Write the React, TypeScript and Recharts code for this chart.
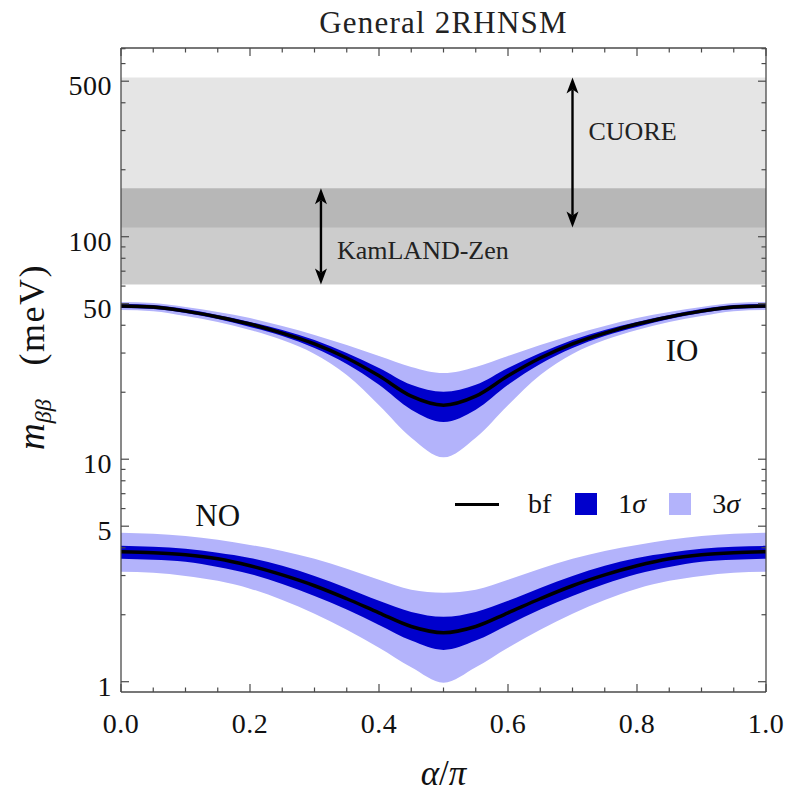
import React from "react";
import {
  ComposedChart,
  Area,
  Line,
  XAxis,
  YAxis,
  ReferenceArea,
  ReferenceLine,
  ReferenceDot,
  Label,
} from "recharts";

const alphaOverPi = [
  0, 0.05, 0.1, 0.15, 0.2, 0.25, 0.3, 0.35, 0.4, 0.45, 0.5, 0.55, 0.6, 0.65, 0.7,
  0.75, 0.8, 0.85, 0.9, 0.95, 1,
];

// inverted ordering, m_bb in meV
const ioBest = [48.8, 48.3, 46.3, 43.6, 40.5, 36.9, 33.0, 28.5, 23.7, 19.2, 17.5, 19.2, 23.7, 28.5, 33.0, 36.9, 40.5, 43.6, 46.3, 48.3, 48.8];
const io1Low = [47.8, 47.3, 45.4, 42.7, 39.3, 35.8, 31.6, 26.8, 21.6, 16.7, 14.7, 16.7, 21.6, 26.8, 31.6, 35.8, 39.3, 42.7, 45.4, 47.3, 47.8];
const io1High = [49.8, 49.3, 47.3, 44.5, 41.4, 38.1, 34.3, 30.0, 25.7, 21.6, 20.1, 21.6, 25.7, 30.0, 34.3, 38.1, 41.4, 44.5, 47.3, 49.3, 49.8];
const io3Low = [46.8, 46.3, 44.0, 41.4, 38.1, 34.3, 29.7, 23.9, 17.5, 12.5, 10.2, 12.5, 17.5, 23.9, 29.7, 34.3, 38.1, 41.4, 44.0, 46.3, 46.8];
const io3High = [50.9, 50.3, 48.3, 45.9, 43.1, 39.7, 36.2, 32.6, 29.1, 26.0, 24.4, 26.0, 29.1, 32.6, 36.2, 39.7, 43.1, 45.9, 48.3, 50.3, 50.9];

// normal ordering
const noBest = [3.84, 3.8, 3.72, 3.57, 3.32, 3.02, 2.7, 2.36, 2.04, 1.77, 1.66, 1.77, 2.04, 2.36, 2.7, 3.02, 3.32, 3.57, 3.72, 3.8, 3.84];
const no1Low = [3.57, 3.53, 3.46, 3.28, 3.05, 2.75, 2.43, 2.11, 1.8, 1.53, 1.39, 1.53, 1.8, 2.11, 2.43, 2.75, 3.05, 3.28, 3.46, 3.53, 3.57];
const no1High = [4.08, 4.04, 3.96, 3.8, 3.6, 3.32, 2.99, 2.64, 2.31, 2.06, 1.96, 2.06, 2.31, 2.64, 2.99, 3.32, 3.6, 3.8, 3.96, 4.04, 4.08];
const no3Low = [3.12, 3.09, 2.99, 2.84, 2.62, 2.33, 2.02, 1.71, 1.42, 1.16, 0.99, 1.16, 1.42, 1.71, 2.02, 2.33, 2.62, 2.84, 2.99, 3.09, 3.12];
const no3High = [4.67, 4.62, 4.52, 4.34, 4.12, 3.87, 3.57, 3.22, 2.87, 2.59, 2.51, 2.59, 2.87, 3.22, 3.57, 3.87, 4.12, 4.34, 4.52, 4.62, 4.67];

// experimental bounds (meV)
const cuoreRange = [110, 520];
const kamlandRange = [61, 165];
const cuoreArrowAt = 0.7;
const kamlandArrowAt = 0.31;

const xTicks = [
  0, 0.05, 0.1, 0.15, 0.2, 0.25, 0.3, 0.35, 0.4, 0.45, 0.5, 0.55, 0.6, 0.65, 0.7,
  0.75, 0.8, 0.85, 0.9, 0.95, 1,
];
const xLabelTicks = [0, 0.2, 0.4, 0.6, 0.8, 1];
const yMajorTicks = [1, 5, 10, 50, 100, 500];
const yMinorTicks = [2, 3, 4, 6, 7, 8, 9, 20, 30, 40, 60, 70, 80, 90, 200, 300, 400, 600, 700];
const yDomain = [0.899, 705];

const data = alphaOverPi.map((a, i) => ({
  a,
  ioBest: ioBest[i],
  io1: [io1Low[i], io1High[i]],
  io3: [io3Low[i], io3High[i]],
  noBest: noBest[i],
  no1: [no1Low[i], no1High[i]],
  no3: [no3Low[i], no3High[i]],
}));

const FONT = "'Liberation Serif', 'DejaVu Serif', serif";
const FRAME = "#4a4a4a";
const DARK = "#0000cc";
const LIGHT = "#b3b3fb";
const MAJOR = 8;
const MINOR = 4.5;

const isLabelX = (v: number) => xLabelTicks.some((t) => Math.abs(t - v) < 1e-6);
const isMajorY = (v: number) => yMajorTicks.includes(v);

const BottomTick = (p: any) => {
  const v = p.payload.value;
  const major = isLabelX(v);
  return (
    <g>
      <line x1={p.x} x2={p.x} y1={p.y} y2={p.y - (major ? MAJOR : MINOR)} stroke={FRAME} strokeWidth={1.2} />
      {major && (
        <text x={p.x} y={p.y + 41} textAnchor="middle" fontFamily={FONT} fontSize={28} letterSpacing={0.5} fill="#111">
          {v.toFixed(1)}
        </text>
      )}
    </g>
  );
};

const TopTick = (p: any) => {
  const major = isLabelX(p.payload.value);
  return <line x1={p.x} x2={p.x} y1={p.y} y2={p.y + (major ? MAJOR : MINOR)} stroke={FRAME} strokeWidth={1.2} />;
};

const LeftTick = (p: any) => {
  const v = p.payload.value;
  const major = isMajorY(v);
  return (
    <g>
      <line x1={p.x} x2={p.x + (major ? MAJOR : MINOR)} y1={p.y} y2={p.y} stroke={FRAME} strokeWidth={1.2} />
      {major && (
        <text x={p.x - 9} y={p.y + 14} textAnchor="end" fontFamily={FONT} fontSize={28} letterSpacing={0.5} fill="#111">
          {v}
        </text>
      )}
    </g>
  );
};

const RightTick = (p: any) => {
  const major = isMajorY(p.payload.value);
  return <line x1={p.x} x2={p.x - (major ? MAJOR : MINOR)} y1={p.y} y2={p.y} stroke={FRAME} strokeWidth={1.2} />;
};

const arrowShape = (label: string, textFrac: number) => (p: any) => {
  const x = p.x1;
  const top = Math.min(p.y1, p.y2);
  const bot = Math.max(p.y1, p.y2);
  const head = 16;
  const hw = 6;
  return (
    <g>
      <line x1={x} x2={x} y1={top + head - 4} y2={bot - head + 4} stroke="#000" strokeWidth={2.4} />
      <path d={`M${x},${top} L${x - hw},${top + head} L${x},${top + head - 4} L${x + hw},${top + head} Z`} fill="#000" />
      <path d={`M${x},${bot} L${x - hw},${bot - head} L${x},${bot - head + 4} L${x + hw},${bot - head} Z`} fill="#000" />
      <text x={x + 16} y={top + (bot - top) * textFrac + 9} fontFamily={FONT} fontSize={26} fill="#222">
        {label}
      </text>
    </g>
  );
};

const textDot = (label: string) => (p: any) => (
  <text x={p.cx} y={p.cy + 11} textAnchor="middle" fontFamily={FONT} fontSize={31} fill="#111">
    {label}
  </text>
);

export default function App() {
  return (
    <div style={{ position: "absolute", left: 0, top: 0, width: 787, height: 795, background: "#fff" }}>
      <ComposedChart width={787} height={795} data={data} margin={{ top: 0, right: 0, bottom: 0, left: 0 }}>
        <XAxis
          xAxisId="b"
          dataKey="a"
          type="number"
          domain={[0, 1]}
          ticks={xTicks}
          interval={0}
          tick={BottomTick}
          tickLine={false}
          tickSize={0}
          tickMargin={0}
          height={103}
          axisLine={{ stroke: FRAME, strokeWidth: 1.3 }}
          allowDataOverflow
        >
          <Label
            content={(lp: any) => (
              <text
                x={lp.viewBox.x + lp.viewBox.width / 2}
                y={lp.viewBox.y + 93}
                textAnchor="middle"
                fontFamily={FONT}
                fontSize={35}
                fill="#111"
              >
                <tspan fontStyle="italic">α</tspan>/<tspan fontStyle="italic">π</tspan>
              </text>
            )}
          />
        </XAxis>
        <XAxis
          xAxisId="t"
          orientation="top"
          type="number"
          dataKey="a"
          domain={[0, 1]}
          ticks={xTicks}
          interval={0}
          tick={TopTick}
          tickLine={false}
          tickSize={0}
          tickMargin={0}
          height={48}
          axisLine={{ stroke: FRAME, strokeWidth: 1.3 }}
          allowDataOverflow
        >
          <Label
            content={(lp: any) => (
              <text
                x={lp.viewBox.x + lp.viewBox.width / 2}
                y={33}
                textAnchor="middle"
                fontFamily={FONT}
                fontSize={31}
                letterSpacing={1.2}
                fill="#222"
              >
                General 2RHNSM
              </text>
            )}
          />
        </XAxis>
        <YAxis
          yAxisId="l"
          type="number"
          scale="log"
          domain={yDomain}
          ticks={[...yMajorTicks, ...yMinorTicks]}
          interval={0}
          tick={LeftTick}
          tickLine={false}
          tickSize={0}
          tickMargin={0}
          width={121}
          axisLine={{ stroke: FRAME, strokeWidth: 1.3 }}
          allowDataOverflow
        >
          <Label
            content={() => (
              <text transform="translate(44,357) rotate(-90)" textAnchor="middle" fontFamily={FONT} fill="#111">
                <tspan fontStyle="italic" fontSize={37}>m</tspan>
                <tspan fontStyle="italic" fontSize={24} dy={7}>ββ</tspan>
                <tspan fontSize={36} dy={-7} dx={34} letterSpacing={1.5}>(meV)</tspan>
              </text>
            )}
          />
        </YAxis>
        <YAxis
          yAxisId="r"
          orientation="right"
          type="number"
          scale="log"
          domain={yDomain}
          ticks={[...yMajorTicks, ...yMinorTicks]}
          interval={0}
          tick={RightTick}
          tickLine={false}
          tickSize={0}
          tickMargin={0}
          width={21}
          axisLine={{ stroke: FRAME, strokeWidth: 1.3 }}
          allowDataOverflow
        />

        <ReferenceArea xAxisId="b" yAxisId="l" y1={cuoreRange[0]} y2={cuoreRange[1]} fill="#000" fillOpacity={0.1} stroke="none" />
        <ReferenceArea xAxisId="b" yAxisId="l" y1={kamlandRange[0]} y2={kamlandRange[1]} fill="#000" fillOpacity={0.2} stroke="none" />

        <Area xAxisId="b" yAxisId="l" type="monotone" dataKey="io3" stroke="none" fill={LIGHT} fillOpacity={1} dot={false} activeDot={false} isAnimationActive={false} />
        <Area xAxisId="b" yAxisId="l" type="monotone" dataKey="io1" stroke="none" fill={DARK} fillOpacity={1} dot={false} activeDot={false} isAnimationActive={false} />
        <Line xAxisId="b" yAxisId="l" type="monotone" dataKey="ioBest" stroke="#000" strokeWidth={3.5} dot={false} activeDot={false} isAnimationActive={false} />
        <Area xAxisId="b" yAxisId="l" type="monotone" dataKey="no3" stroke="none" fill={LIGHT} fillOpacity={1} dot={false} activeDot={false} isAnimationActive={false} />
        <Area xAxisId="b" yAxisId="l" type="monotone" dataKey="no1" stroke="none" fill={DARK} fillOpacity={1} dot={false} activeDot={false} isAnimationActive={false} />
        <Line xAxisId="b" yAxisId="l" type="monotone" dataKey="noBest" stroke="#000" strokeWidth={3.5} dot={false} activeDot={false} isAnimationActive={false} />

        <ReferenceLine
          xAxisId="b"
          yAxisId="l"
          segment={[
            { x: cuoreArrowAt, y: cuoreRange[0] },
            { x: cuoreArrowAt, y: cuoreRange[1] },
          ]}
          shape={arrowShape("CUORE", 0.36)}
        />
        <ReferenceLine
          xAxisId="b"
          yAxisId="l"
          segment={[
            { x: kamlandArrowAt, y: kamlandRange[0] },
            { x: kamlandArrowAt, y: kamlandRange[1] },
          ]}
          shape={arrowShape("KamLAND-Zen", 0.64)}
        />
        <ReferenceDot xAxisId="b" yAxisId="l" x={0.87} y={31} r={0} shape={textDot("IO")} />
        <ReferenceDot xAxisId="b" yAxisId="l" x={0.15} y={5.6} r={0} shape={textDot("NO")} />
      </ComposedChart>

      <div
        style={{
          position: "absolute",
          left: 455,
          top: 489,
          height: 30,
          display: "flex",
          alignItems: "center",
          fontFamily: FONT,
          fontSize: 28,
          lineHeight: "30px",
          color: "#111",
        }}
      >
        <span style={{ display: "inline-block", width: 44, height: 3, background: "#000" }} />
        <span style={{ marginLeft: 29 }}>bf</span>
        <span style={{ display: "inline-block", width: 22, height: 22, background: DARK, marginLeft: 24 }} />
        <span style={{ marginLeft: 21 }}>
          1<i>σ</i>
        </span>
        <span style={{ display: "inline-block", width: 22, height: 22, background: LIGHT, marginLeft: 23 }} />
        <span style={{ marginLeft: 21 }}>
          3<i>σ</i>
        </span>
      </div>
    </div>
  );
}
